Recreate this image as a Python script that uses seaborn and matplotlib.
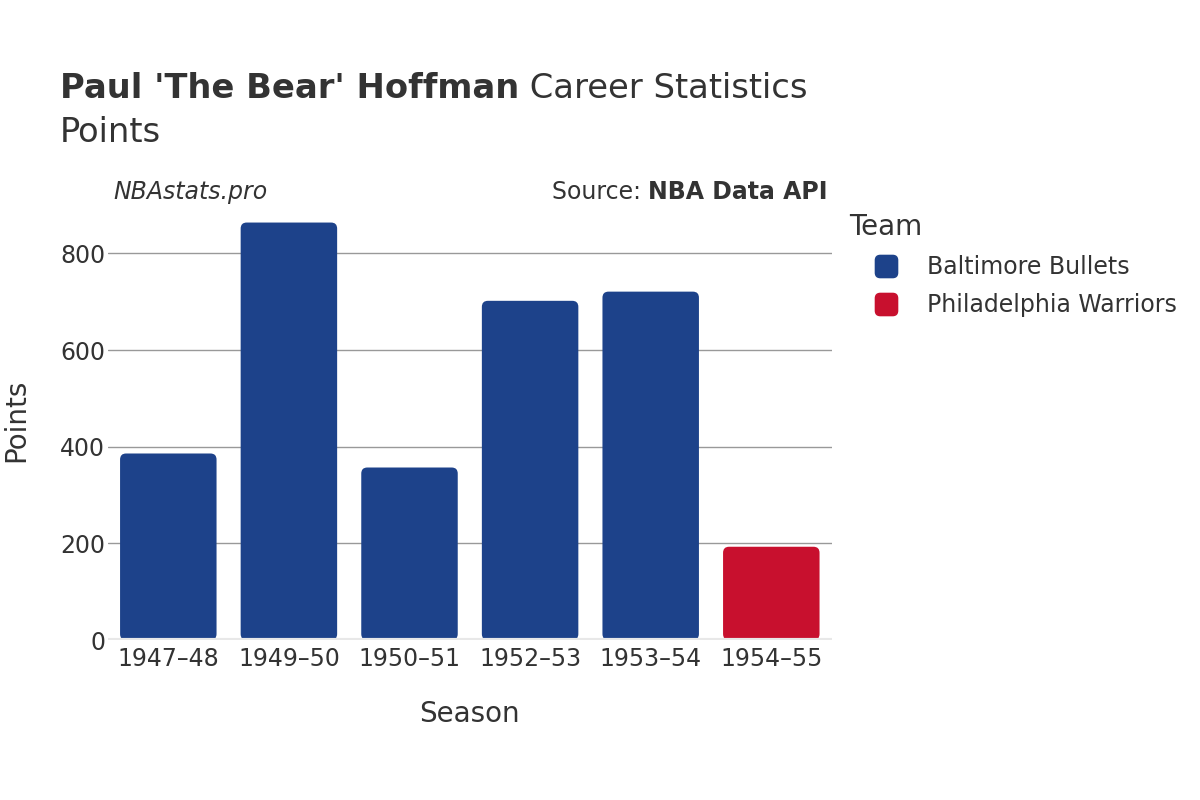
import matplotlib
matplotlib.use("Agg")
import matplotlib.pyplot as plt
import seaborn as sns
import pandas as pd
from matplotlib.lines import Line2D
from matplotlib.patches import FancyBboxPatch, BoxStyle

seasons = ["1947–48", "1949–50", "1950–51", "1952–53", "1953–54", "1954–55"]
points = [386, 864, 357, 702, 721, 193]
teams = ["Baltimore Bullets"] * 5 + ["Philadelphia Warriors"]
team_colors = {"Baltimore Bullets": "#1D428A", "Philadelphia Warriors": "#C8102E"}

df = pd.DataFrame({"Season": seasons, "Points": points, "Team": teams})

sns.set_style("white")
plt.rcParams['font.family'] = ['DejaVu Sans']
txt = "#333333"

fig = plt.figure(figsize=(12, 8), dpi=100)
ax = fig.add_axes([0.09, 0.2, 0.603, 0.549])

sns.barplot(data=df, x="Season", y="Points", hue="Team", palette=team_colors,
            dodge=False, width=0.8, legend=False, ax=ax, saturation=1, zorder=3)

# rounded tops: swap rectangles for rounded boxes
for p in list(ax.patches):
    x, y = p.get_x(), p.get_y()
    w, h = p.get_width(), p.get_height()
    if h <= 0:
        continue
    fb = FancyBboxPatch((x, y), w, h, boxstyle="round,pad=0,rounding_size=0.05",
                        mutation_aspect=250, facecolor=p.get_facecolor(),
                        edgecolor="none", zorder=3)
    p.remove()
    ax.add_patch(fb)

ax.set_ylim(0, 909)
ax.set_xlim(-0.5, len(seasons) - 0.5)
ax.set_yticks([0, 200, 400, 600, 800])
ax.yaxis.grid(True, color="#999999", linewidth=1)
ax.set_axisbelow(True)
ax.axhline(0, color="#e8e8e8", linewidth=3, zorder=4)
for s in ax.spines.values():
    s.set_visible(False)
ax.tick_params(axis="both", length=0, labelsize=17, colors=txt)
ax.tick_params(axis="y", pad=2)
ax.tick_params(axis="x", pad=5)
ax.set_xlabel("Season", fontsize=20, color=txt)
ax.set_ylabel("Points", fontsize=20, color=txt)
ax.xaxis.set_label_coords(0.5, -0.137)
ax.yaxis.set_label_coords(-0.108, 0.5)

r = fig.canvas.get_renderer()
t1 = fig.text(0.05, 0.89, "Paul 'The Bear' Hoffman", fontsize=24.3, fontweight="bold",
              color=txt, va="center")
bb = t1.get_window_extent(renderer=r)
fig.text(bb.x1 / 1200, 0.89, " Career Statistics", fontsize=24.3, color=txt, va="center")
fig.text(0.05, 0.835, "Points", fontsize=24.3, color=txt, va="center")

fig.text(113 / 1200, 0.76, "NBAstats.pro", fontsize=17, style="italic",
         color=txt, ha="left", va="center")
t2 = fig.text(828 / 1200, 0.76, "NBA Data API", fontsize=17, fontweight="bold",
              color=txt, ha="right", va="center")
bb2 = t2.get_window_extent(renderer=r)
fig.text(bb2.x0 / 1200, 0.76, "Source: ", fontsize=17, color=txt, ha="right", va="center")

# rounded square marker for the legend
rsq = BoxStyle("round", pad=0, rounding_size=0.22)(-0.5, -0.5, 1, 1, 1)
handles = [Line2D([0], [0], marker=rsq, linestyle="", markersize=16,
                  markerfacecolor=team_colors[t], markeredgecolor=team_colors[t])
           for t in team_colors]
leg = fig.legend(handles, list(team_colors), title="Team", loc="upper left",
                 bbox_to_anchor=(0.70, 0.746), frameon=False, fontsize=17,
                 title_fontsize=20, labelcolor=txt, handlelength=3.1,
                 handletextpad=0.2, labelspacing=0.6, alignment="left",
                 borderaxespad=0)
leg.get_title().set_color(txt)

fig.savefig("out.png", dpi=100)
